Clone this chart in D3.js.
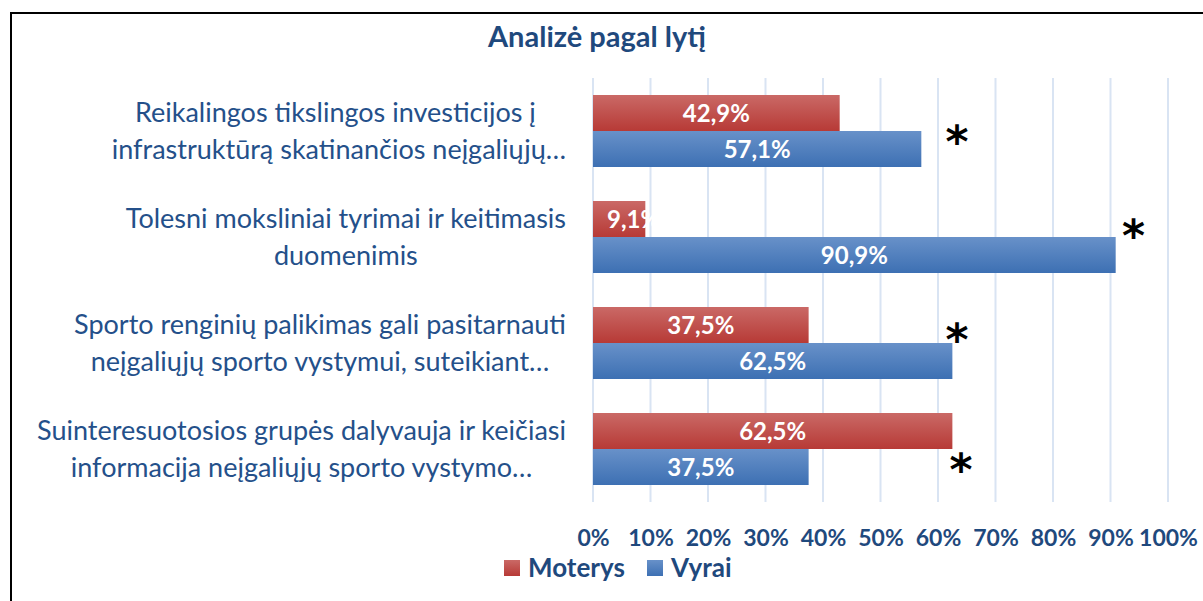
<!DOCTYPE html>
<html>
<head>
<meta charset="utf-8">
<script src="https://cdn.jsdelivr.net/npm/d3@7"></script>
<style>
  body { margin: 0; background: #fff; }
  svg { display: block; }
</style>
</head>
<body>
<div id="chart"></div>
<script>
// categories, two lines each as in the original
var categories = [
  ["Reikalingos tikslingos investicijos į ", "infrastruktūrą skatinančios neįgaliųjų…"],
  ["Tolesni moksliniai tyrimai ir keitimasis", "duomenimis"],
  ["Sporto renginių palikimas gali pasitarnauti", "neįgaliųjų sporto vystymui, suteikiant…"],
  ["Suinteresuotosios grupės dalyvauja ir keičiasi", "informacija neįgaliųjų sporto vystymo…"]
];
var moterys = [42.9, 9.1, 37.5, 62.5];
var vyrai = [57.1, 90.9, 62.5, 37.5];
var seriesNames = ["Moterys", "Vyrai"];
var tickValues = [0, 10, 20, 30, 40, 50, 60, 70, 80, 90, 100];
var title = "Analizė pagal lytį";

// asterisk notes: value on the x axis and shift within the category band
var notes = [
  { row: 0, at: 63.3, dy: 4 },
  { row: 1, at: 94.0, dy: -8 },
  { row: 2, at: 63.3, dy: -10 },
  { row: 3, at: 64.0, dy: 14 }
];

var W = 1203, H = 601;
var margin = { left: 593, right: 35, top: 78, bottom: 99 };
var textColor = "#1f497d";
var font = "Lato, 'Open Sans', sans-serif";

var svg = d3.select("#chart").append("svg")
  .attr("width", W)
  .attr("height", H);

var defs = svg.append("defs");
function grad(id, top, bottom) {
  var g = defs.append("linearGradient").attr("id", id)
    .attr("x1", 0).attr("y1", 0).attr("x2", 0).attr("y2", 1);
  g.append("stop").attr("offset", "0%").attr("stop-color", top);
  g.append("stop").attr("offset", "100%").attr("stop-color", bottom);
}
grad("gRed", "#ca6966", "#b73a36");
grad("gBlue", "#6891c9", "#3d70b3");
var fills = ["url(#gRed)", "url(#gBlue)"];

// frame (top and left edges visible)
svg.append("path")
  .attr("d", "M11,601 L11,13 L1203,13")
  .attr("fill", "none")
  .attr("stroke", "#000")
  .attr("stroke-width", 2);

var x = d3.scaleLinear().domain([0, 100]).range([margin.left, W - margin.right]);
var y = d3.scaleBand().domain(d3.range(categories.length))
  .range([margin.top, H - margin.bottom]);
var barH = 36;

// gridlines
svg.append("g").selectAll("line")
  .data(tickValues)
  .enter().append("line")
  .attr("x1", function(d) { return x(d); })
  .attr("x2", function(d) { return x(d); })
  .attr("y1", margin.top)
  .attr("y2", H - margin.bottom)
  .attr("stroke", "#d9e4f3")
  .attr("stroke-width", 2);

// x axis labels
var xAxis = d3.axisBottom(x)
  .tickValues(tickValues)
  .tickSize(0)
  .tickFormat(function(d) { return d + "%"; });
var gx = svg.append("g")
  .attr("transform", "translate(0," + (H - margin.bottom) + ")")
  .call(xAxis);
gx.select(".domain").remove();
gx.selectAll("text")
  .attr("y", 36)
  .attr("dy", "0.35em")
  .attr("fill", textColor)
  .style("font-family", font)
  .style("font-weight", "bold")
  .style("font-size", "23px");

// bars
var rows = categories.map(function(c, i) {
  return { i: i, values: [moterys[i], vyrai[i]] };
});

var rowG = svg.append("g").selectAll("g")
  .data(rows)
  .enter().append("g")
  .attr("transform", function(d) {
    return "translate(0," + (y(d.i) + y.bandwidth() / 2 - barH) + ")";
  });

rowG.selectAll("rect")
  .data(function(d) { return d.values; })
  .enter().append("rect")
  .attr("x", x(0))
  .attr("y", function(d, j) { return j * barH; })
  .attr("width", function(d) { return x(d) - x(0); })
  .attr("height", barH)
  .attr("fill", function(d, j) { return fills[j]; });

rowG.selectAll("text.val")
  .data(function(d) { return d.values; })
  .enter().append("text")
  .attr("class", "val")
  .attr("y", function(d, j) { return j * barH + barH / 2; })
  .attr("dy", "0.36em")
  .attr("fill", "#fff")
  .style("font-family", font)
  .style("font-weight", "bold")
  .style("font-size", "24px")
  .text(function(d) { return String(d.toFixed(1)).replace(".", ",") + "%"; })
  .each(function(d) {
    var t = d3.select(this);
    var w = this.getComputedTextLength();
    var barW = x(d) - x(0);
    if (w + 8 > barW) {
      t.attr("x", x(0) + 14).attr("text-anchor", "start");
    } else {
      t.attr("x", x(d / 2)).attr("text-anchor", "middle");
    }
  });

// category labels: lines centered within a right-aligned block
var labelRight = margin.left - 27;
var labG = svg.append("g").selectAll("g")
  .data(categories)
  .enter().append("g");

labG.each(function(lines, i) {
  var g = d3.select(this);
  var cy = y(i) + y.bandwidth() / 2;
  var texts = g.selectAll("text")
    .data(lines)
    .enter().append("text")
    .attr("y", function(d, k) { return cy + (k === 0 ? -18 : 19); })
    .attr("dy", "0.35em")
    .attr("text-anchor", "middle")
    .attr("fill", "#24508a")
    .style("font-family", font)
    .style("font-size", "27px")
    .style("white-space", "pre")
    .text(function(d) { return d; });
  var maxW = 0;
  texts.each(function() { maxW = Math.max(maxW, this.getComputedTextLength()); });
  texts.attr("x", labelRight - maxW / 2);
});

// asterisks
svg.append("g").selectAll("text")
  .data(notes)
  .enter().append("text")
  .attr("x", function(d) { return x(d.at); })
  .attr("y", function(d) { return y(d.row) + y.bandwidth() / 2 + d.dy + 22; })
  .attr("text-anchor", "middle")
  .attr("fill", "#000")
  .style("font-family", "'DejaVu Sans', sans-serif")
  .style("font-weight", "bold")
  .style("font-size", "44px")
  .text("*");

// title
svg.append("text")
  .attr("x", 597)
  .attr("y", 37)
  .attr("dy", "0.35em")
  .attr("text-anchor", "middle")
  .attr("fill", textColor)
  .style("font-family", font)
  .style("font-weight", "bold")
  .style("font-size", "29px")
  .text(title);

// legend
var legendX = [504, 647];
var leg = svg.append("g").selectAll("g")
  .data(seriesNames)
  .enter().append("g")
  .attr("transform", function(d, i) { return "translate(" + legendX[i] + ",560)"; });
leg.append("rect")
  .attr("width", 16)
  .attr("height", 16)
  .attr("fill", function(d, i) { return fills[i]; });
leg.append("text")
  .attr("x", 24)
  .attr("y", 8)
  .attr("dy", "0.36em")
  .attr("fill", textColor)
  .style("font-family", font)
  .style("font-weight", "bold")
  .style("font-size", "26px")
  .text(function(d) { return d; });
</script>
</body>
</html>
